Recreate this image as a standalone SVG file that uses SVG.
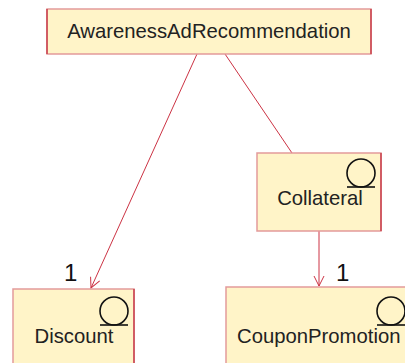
<svg xmlns="http://www.w3.org/2000/svg" width="405" height="363" viewBox="0 0 405 363">
<style>
.box{fill:#fff4c8;stroke:#e39a9a;stroke-width:1.5}
.edge{stroke:#c8404c;stroke-width:1.5}
.lbl{font-family:"Liberation Sans",Arial,sans-serif;font-size:20.3px;fill:#222}
.mult{font-family:"Liberation Sans",Arial,sans-serif;font-size:24px;fill:#111}
.icon{fill:none;stroke:#111;stroke-width:1.6}
.conn{fill:none;stroke:#cc3344;stroke-width:1}
</style>
<defs>
<marker id="arr" viewBox="0 0 12 12" refX="11" refY="6" markerWidth="12" markerHeight="12" markerUnits="userSpaceOnUse" orient="auto">
<path d="M1,1 L11,6 L1,11" fill="none" stroke="#cc3344" stroke-width="1"/>
</marker>
</defs>
<g id="connectors">
<line class="conn" x1="197" y1="54" x2="91" y2="288" marker-end="url(#arr)"/>
<line class="conn" x1="225" y1="54" x2="292" y2="153"/>
<line class="conn" x1="319" y1="231" x2="319" y2="286" marker-end="url(#arr)"/>
<text class="mult" x="64" y="281">1</text>
<text class="mult" x="336" y="281">1</text>
</g>
<g id="AwarenessAdRecommendation">
<rect class="box" x="47" y="9" width="324" height="45"/>
<line class="edge" x1="47" y1="9" x2="47" y2="54"/>
<line class="edge" x1="371" y1="9" x2="371" y2="54"/>
<text class="lbl" x="209" y="38" text-anchor="middle">AwarenessAdRecommendation</text>
</g>
<g id="Collateral">
<rect class="box" x="257" y="153" width="124" height="78"/>
<line class="edge" x1="381" y1="153" x2="381" y2="231"/>
<circle class="icon" cx="361" cy="173" r="14"/>
<line class="icon" x1="347" y1="187" x2="375" y2="187"/>
<text class="lbl" x="320" y="205" text-anchor="middle">Collateral</text>
</g>
<g id="Discount">
<rect class="box" x="13" y="289" width="121" height="80"/>
<line class="edge" x1="134" y1="289" x2="134" y2="369"/>
<circle class="icon" cx="114" cy="311" r="14"/>
<line class="icon" x1="100" y1="325" x2="128" y2="325"/>
<text class="lbl" x="74" y="343" text-anchor="middle">Discount</text>
</g>
<g id="CouponPromotion">
<rect class="box" x="226" y="287" width="200" height="80"/>
<circle class="icon" cx="391" cy="311" r="14"/>
<line class="icon" x1="377" y1="325" x2="405" y2="325"/>
<text class="lbl" x="237" y="343">CouponPromotion</text>
</g>
</svg>
